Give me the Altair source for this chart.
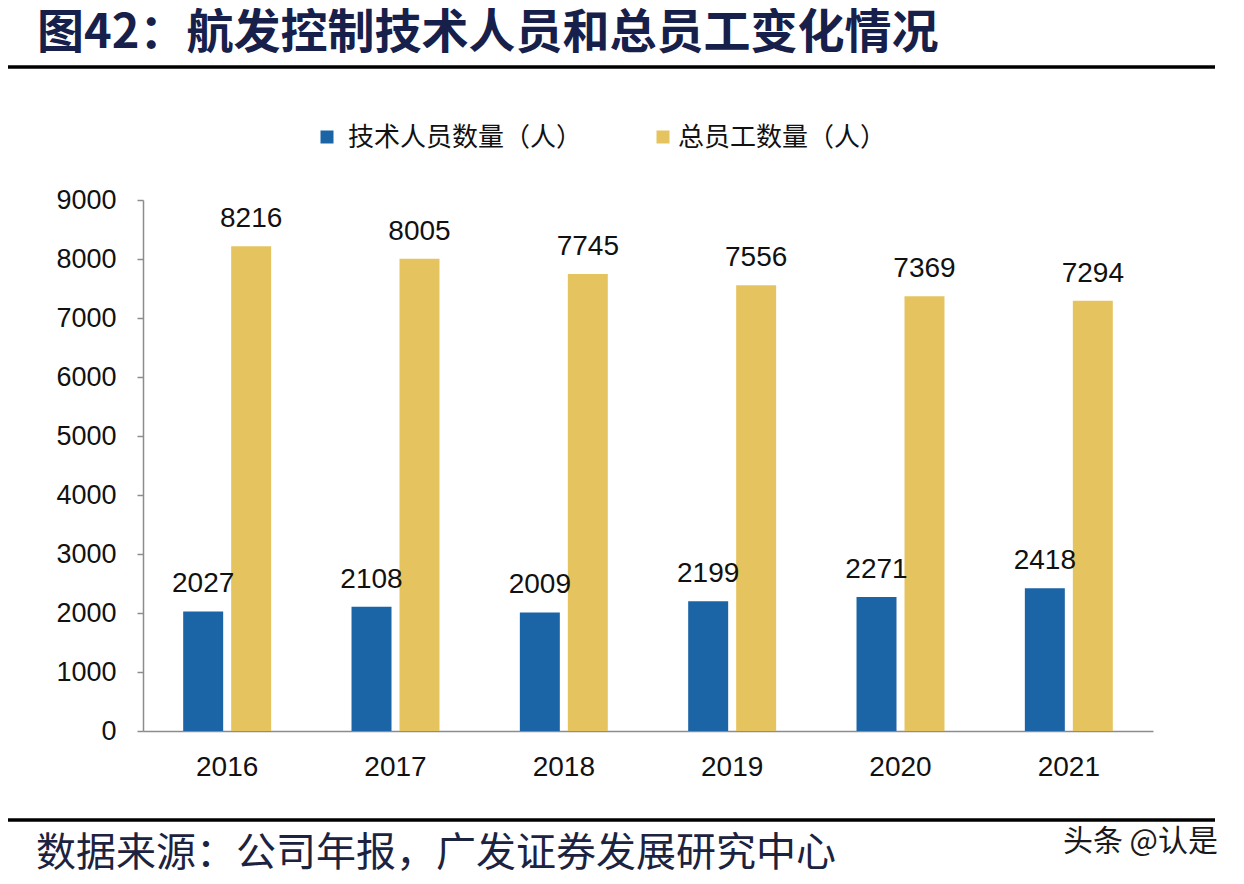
import altair as alt
import pandas as pd

years = ["2016", "2017", "2018", "2019", "2020", "2021"]
tech_staff = [2027, 2108, 2009, 2199, 2271, 2418]
total_staff = [8216, 8005, 7745, 7556, 7369, 7294]
series_names = ["技术人员数量（人）", "总员工数量（人）"]
series_colors = ["#1B65A6", "#E5C45F"]
y_ticks = [0, 1000, 2000, 3000, 4000, 5000, 6000, 7000, 8000, 9000]

title_text = "图42：航发控制技术人员和总员工变化情况"
source_text = "数据来源：公司年报，广发证券发展研究中心"
watermark_text = "头条 @认是"

rows = []
for i, yr in enumerate(years):
    rows.append({"year": yr, "series": series_names[0], "value": tech_staff[i]})
    rows.append({"year": yr, "series": series_names[1], "value": total_staff[i]})
df = pd.DataFrame(rows)
one = pd.DataFrame({"d": [0]})

W, H = 1010, 531
NUM_FONT = "Liberation Sans"
CJK_FONT = "Noto Sans CJK SC"
AXIS_COLOR = "#8C8C8C"

x_enc = alt.X(
    "year:N", sort=years,
    scale=alt.Scale(paddingInner=0, paddingOuter=0),
    axis=alt.Axis(title=None, labelAngle=0, ticks=False, tickSize=0,
                  domainColor=AXIS_COLOR, domainWidth=1.5,
                  labelFont=NUM_FONT, labelFontSize=28, labelColor="#111111",
                  labelPadding=22),
)
xo_enc = alt.XOffset("series:N", sort=series_names,
                     scale=alt.Scale(paddingInner=8 / 48, paddingOuter=0.8375))
y_enc = alt.Y(
    "value:Q",
    scale=alt.Scale(domain=[0, 9000], nice=False, zero=True),
    axis=alt.Axis(title=None, values=y_ticks, format="d", grid=False, tickSize=6,
                  tickColor=AXIS_COLOR, tickWidth=1.5, domainColor=AXIS_COLOR,
                  domainWidth=1.5, labelFont=NUM_FONT, labelFontSize=27,
                  labelColor="#111111", labelPadding=21),
)
color_enc = alt.Color("series:N",
                      scale=alt.Scale(domain=series_names, range=series_colors),
                      legend=None)

bars = alt.Chart(df).mark_bar().encode(
    x=x_enc, xOffset=xo_enc, y=y_enc, color=color_enc
)

labels = alt.Chart(df).mark_text(
    baseline="alphabetic", align="center", dy=-19,
    font=NUM_FONT, fontSize=28, color="#111111"
).encode(
    x=alt.X("year:N", sort=years),
    xOffset=alt.XOffset("series:N", sort=series_names),
    y="value:Q",
    text=alt.Text("value:Q", format="d"),
)

title = alt.Chart(one).mark_text(
    align="left", baseline="middle", font=CJK_FONT, fontSize=47,
    fontWeight="bold", color="#17204A"
).encode(x=alt.value(-106), y=alt.value(-166), text=alt.value(title_text))

top_rule = alt.Chart(one).mark_rule(color="#000000", strokeWidth=3.5).encode(
    x=alt.value(-135), x2=alt.value(1072), y=alt.value(-133))
bottom_rule = alt.Chart(one).mark_rule(color="#000000", strokeWidth=3.5).encode(
    x=alt.value(-135), x2=alt.value(1072), y=alt.value(620))

leg_sq1 = alt.Chart(one).mark_square(size=169, color=series_colors[0], opacity=1).encode(
    x=alt.value(184), y=alt.value(-63))
leg_tx1 = alt.Chart(one).mark_text(
    align="left", baseline="middle", font=CJK_FONT, fontSize=26, color="#111111"
).encode(x=alt.value(205), y=alt.value(-62), text=alt.value(series_names[0]))
leg_sq2 = alt.Chart(one).mark_square(size=169, color=series_colors[1], opacity=1).encode(
    x=alt.value(520), y=alt.value(-63))
leg_tx2 = alt.Chart(one).mark_text(
    align="left", baseline="middle", font=CJK_FONT, fontSize=26, color="#111111"
).encode(x=alt.value(535), y=alt.value(-62), text=alt.value(series_names[1]))

source = alt.Chart(one).mark_text(
    align="left", baseline="middle", font=CJK_FONT, fontSize=40, color="#1C2340"
).encode(x=alt.value(-107), y=alt.value(654), text=alt.value(source_text))

watermark = alt.Chart(one).mark_text(
    align="right", baseline="middle", font=CJK_FONT, fontSize=30, color="#1a1a1a"
).encode(x=alt.value(1075), y=alt.value(642), text=alt.value(watermark_text))

chart = alt.layer(
    bars, labels, title, top_rule, bottom_rule,
    leg_sq1, leg_tx1, leg_sq2, leg_tx2, source, watermark
).properties(
    width=W, height=H,
    autosize=alt.AutoSizeParams(type="none"),
    padding={"left": 135, "top": 192, "right": 83, "bottom": 145},
    background="#FFFFFF",
).configure_view(stroke=None)

chart.save("out.html", embed_options={"renderer": "svg", "actions": False})
